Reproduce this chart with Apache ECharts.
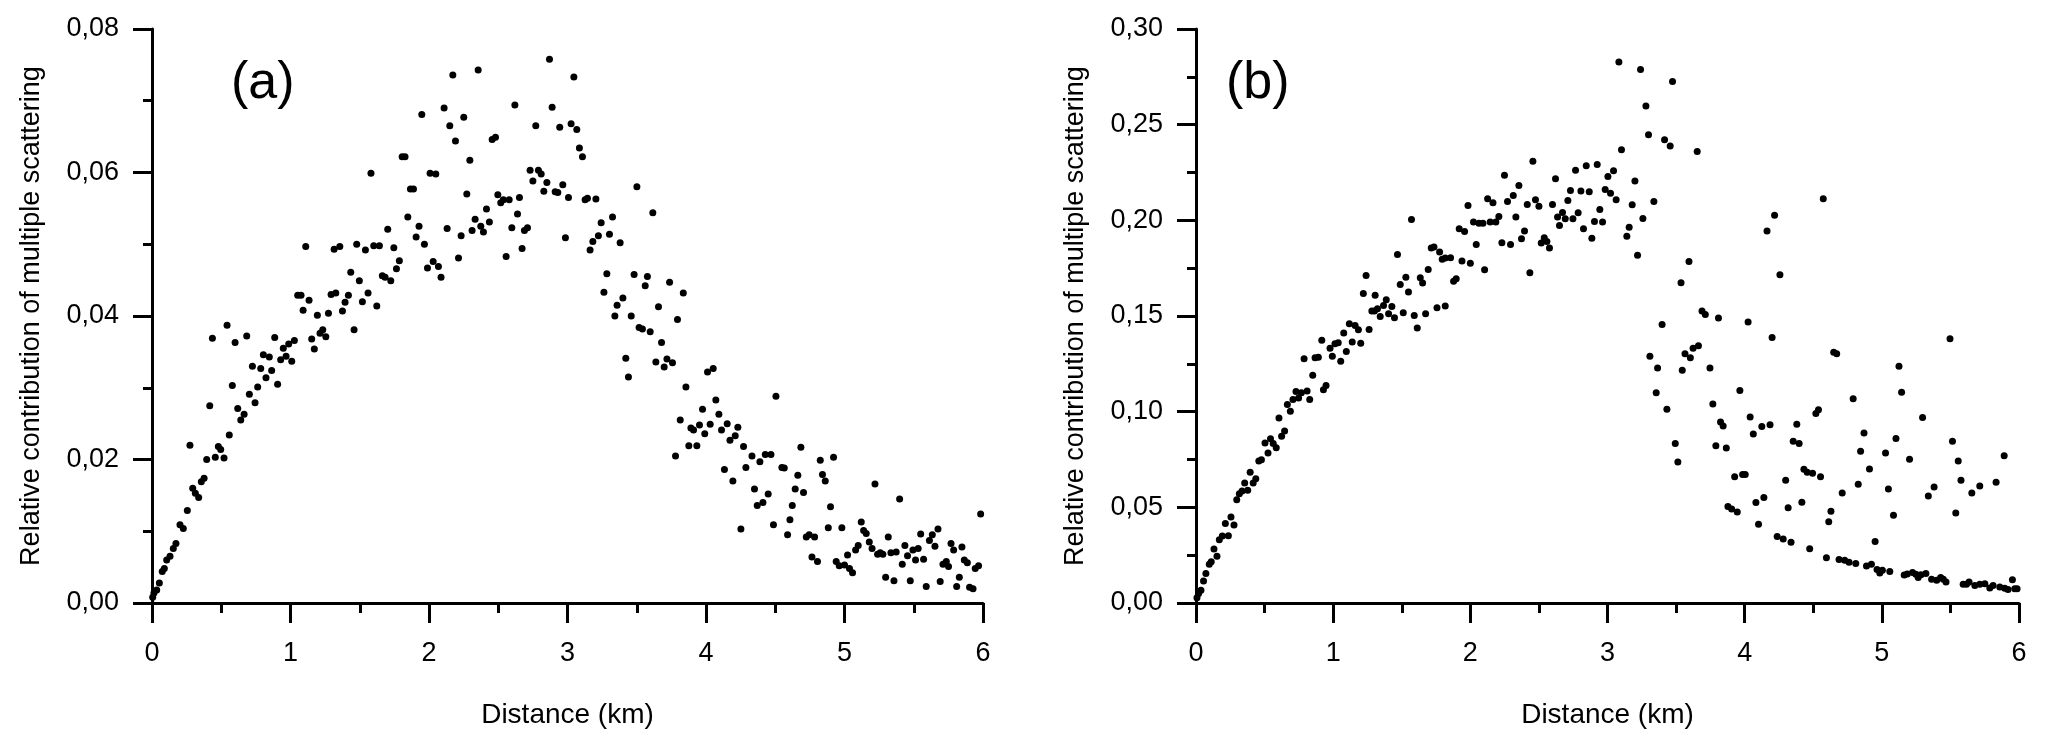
<!DOCTYPE html>
<html>
<head>
<meta charset="utf-8">
<script src="https://cdn.jsdelivr.net/npm/echarts@6/dist/echarts.min.js"></script>
<style>
html,body{margin:0;padding:0;background:#fff;}
#chart{width:2067px;height:747px;}
</style>
</head>
<body>
<div id="chart"></div>
<script>
// Panel (a): distance (km) and relative contribution of multiple scattering
const distA = [0.005,0.014,0.034,0.053,0.074,0.089,0.106,0.130,0.154,0.173,0.202,0.226,0.255,0.274,0.294,0.313,0.337,0.356,0.376,0.395,0.417,0.457,0.479,0.496,0.520,0.558,0.580,0.619,0.641,0.665,0.703,0.744,0.763,0.907,
0.436,0.542,0.600,0.684,0.725,0.785,0.804,0.847,0.864,0.823,0.886,0.929,0.948,0.968,0.987,1.009,1.028,1.052,1.076,1.110,1.091,1.134,1.153,1.172,1.194,1.213,1.233,1.255,1.274,1.293,1.315,1.327,1.356,1.375,1.394,1.418,1.435,1.459,1.478,1.497,1.519,1.541,1.560,1.581,1.601,1.623,1.642,1.663,1.683,1.702,1.724,1.746,1.765,1.786,1.806,1.827,1.847,1.866,1.888,1.907,1.928,1.948,1.967,1.989,2.008,2.049,2.030,2.068,2.087,2.109,2.131,2.150,2.172,2.191,2.213,2.232,2.251,2.273,2.295,2.311,2.333,2.355,2.374,2.393,2.415,2.436,2.456,2.480,2.497,2.518,2.537,2.557,2.579,2.598,2.620,2.639,2.653,
2.672,2.689,2.711,2.730,2.750,2.771,2.790,2.810,2.829,2.851,2.870,2.889,2.911,2.930,2.944,2.966,2.985,3.007,3.026,3.046,3.067,3.086,3.108,3.127,3.144,3.163,3.183,3.205,3.223,3.243,3.263,3.284,3.303,3.325,3.342,3.358,3.380,3.400,3.421,3.440,3.460,3.481,3.501,3.517,3.541,3.561,3.577,3.597,3.616,3.638,3.657,3.679,3.698,3.718,3.737,3.758,3.794,3.836,4.011,4.052,
3.855,4.505,4.071,3.975,4.093,3.814,4.030,3.953,4.153,3.891,3.910,4.112,4.230,3.991,4.211,4.173,3.876,3.934,4.271,3.780,4.332,4.428,4.469,4.389,4.685,4.825,4.921,4.133,4.288,4.548,4.565,4.663,4.841,4.861,4.194,4.350,4.644,4.704,4.449,4.411,4.370,4.623,4.899,5.220,5.398,5.983,4.606,4.487,4.883,4.981,4.252,5.121,5.138,5.157,4.589,4.724,4.745,4.784,5.316,5.179,5.550,5.613,5.634,5.675,5.099,5.080,5.199,5.436,5.653,5.769,5.848,5.494,5.532,5.788,5.239,5.258,5.277,5.335,5.373,5.455,5.022,5.513,5.571,5.417,4.765,4.805,4.940,4.962,5.000,5.036,5.058,5.711,5.735,5.751,5.865,5.887,5.944,5.968,5.297,5.357,5.475,5.590,5.691,5.829,5.810,5.903,5.928];
const valA = [0.0008,0.0014,0.0018,0.0028,0.0044,0.0048,0.0060,0.0065,0.0076,0.0083,0.0109,0.0104,0.0129,0.0220,0.0160,0.0153,0.0147,0.0169,0.0174,0.0200,0.0275,0.0203,0.0218,0.0214,0.0202,0.0234,0.0303,0.0271,0.0255,0.0263,0.0291,0.0279,0.0301,0.0305,
0.0369,0.0387,0.0363,0.0372,0.0330,0.0327,0.0346,0.0343,0.0324,0.0314,0.0370,0.0339,0.0355,0.0344,0.0361,0.0337,0.0366,0.0429,0.0429,0.0497,0.0408,0.0422,0.0368,0.0354,0.0401,0.0376,0.0381,0.0371,0.0404,0.0430,0.0493,0.0432,0.0497,0.0407,0.0419,0.0429,0.0461,0.0381,0.0500,0.0449,0.0420,0.0492,0.0432,0.0599,0.0498,0.0414,0.0498,0.0456,0.0454,0.0521,0.0449,0.0495,0.0466,0.0477,0.0622,0.0622,0.0538,0.0577,0.0577,0.0510,0.0525,0.0681,0.0500,0.0467,0.0599,0.0598,0.0476,0.0469,0.0454,0.0690,0.0522,0.0665,0.0736,0.0644,0.0481,0.0512,0.0677,0.0570,0.0617,0.0519,0.0535,0.0743,0.0525,0.0517,0.0549,0.0531,0.0646,0.0649,0.0569,0.0558,0.0562,0.0483,0.0562,0.0523,0.0694,0.0542,0.0565,
0.0494,0.0519,0.0523,0.0603,0.0588,0.0665,0.0603,0.0598,0.0574,0.0586,0.0758,0.0691,0.0573,0.0572,0.0663,0.0583,0.0509,0.0565,0.0668,0.0733,0.0660,0.0634,0.0622,0.0562,0.0564,0.0492,0.0504,0.0563,0.0512,0.0530,0.0433,0.0459,0.0514,0.0538,0.0400,0.0415,0.0502,0.0425,0.0341,0.0315,0.0400,0.0458,0.0580,0.0384,0.0382,0.0442,0.0455,0.0378,0.0544,0.0336,0.0413,0.0363,0.0329,0.0340,0.0447,0.0335,0.0395,0.0432,0.0322,0.0327,
0.0301,0.0288,0.0283,0.0270,0.0263,0.0255,0.0249,0.0248,0.0250,0.0244,0.0241,0.0241,0.0245,0.0236,0.0233,0.0227,0.0219,0.0219,0.0218,0.0205,0.0205,0.0207,0.0207,0.0197,0.0217,0.0199,0.0203,0.0186,0.0189,0.0189,0.0188,0.0178,0.0179,0.0170,0.0170,0.0159,0.0159,0.0154,0.0152,0.0140,0.0136,0.0136,0.0134,0.0166,0.0145,0.0124,0.0116,0.0109,0.0105,0.0105,0.0103,0.0113,0.0101,0.0097,0.0095,0.0092,0.0095,0.0092,0.0092,0.0085,0.0096,0.0087,0.0095,0.0103,0.0080,0.0074,0.0076,0.0080,0.0079,0.0083,0.0078,0.0074,0.0076,0.0074,0.0068,0.0070,0.0068,0.0070,0.0071,0.0066,0.0067,0.0060,0.0061,0.0054,0.0064,0.0058,0.0058,0.0052,0.0053,0.0048,0.0042,0.0054,0.0058,0.0051,0.0060,0.0056,0.0048,0.0052,0.0036,0.0031,0.0031,0.0023,0.0030,0.0036,0.0023,0.0022,0.0020];

// Panel (b)
const distB = [0.007,0.019,0.036,0.055,0.072,0.097,0.111,0.131,0.153,0.170,0.192,0.214,0.236,0.255,0.277,0.297,0.316,0.336,0.355,0.377,0.395,0.417,0.436,0.458,0.477,0.503,0.525,0.543,0.563,0.585,0.605,0.624,0.646,0.666,0.688,0.707,0.729,0.748,0.768,0.810,0.829,0.929,0.948,
0.788,0.851,0.868,0.892,0.917,0.977,1.013,1.037,0.994,1.055,1.077,1.096,1.118,1.160,1.184,1.139,1.201,1.220,1.240,1.262,1.282,1.301,1.306,1.323,1.343,1.367,1.387,1.404,1.428,1.447,1.469,1.489,1.511,1.530,1.549,1.571,1.591,1.613,1.635,1.652,1.674,1.693,1.715,1.735,1.757,1.776,1.795,1.817,1.856,1.817,1.878,1.897,1.919,1.958,1.939,1.983,2.000,2.023,2.043,2.063,2.092,2.104,2.126,2.165,2.145,2.186,2.208,2.230,2.249,2.271,2.293,2.313,2.332,2.354,2.373,2.395,2.415,2.434,2.456,2.475,2.500,2.517,2.539,2.558,2.577,2.599,2.621,2.636,2.650,
2.672,2.692,2.711,2.730,2.748,2.767,2.786,2.806,2.825,2.845,2.867,2.886,2.905,2.925,2.944,2.964,2.983,3.003,3.022,3.044,3.063,3.083,3.102,3.141,3.158,3.180,3.200,3.219,3.241,3.258,3.280,3.299,3.338,3.416,3.457,3.474,3.654,3.398,3.536,3.594,3.689,3.713,3.809,4.025,4.163,4.218,4.257,4.573,4.200,3.309,3.365,3.545,3.565,3.604,3.624,3.663,3.747,4.649,4.671,5.125,5.497,
3.355,3.433,3.965,4.791,5.144,3.768,3.824,3.843,4.040,4.125,4.185,4.380,4.519,4.538,5.297,4.063,4.870,5.103,5.515,3.494,3.513,3.790,3.866,4.354,4.397,4.845,5.027,5.202,5.557,5.892,4.910,4.432,4.456,4.495,4.553,3.927,3.985,4.004,4.299,5.577,4.828,5.833,5.714,5.381,5.048,4.711,5.656,5.339,4.140,4.082,4.417,4.317,3.878,3.905,3.946,4.629,5.539,5.085,4.613,4.101,4.951,4.237,4.281,4.338,4.474,4.596,4.688,4.729,4.761,4.810,4.888,4.924,4.965,4.985,5.004,5.058,5.163,5.185,5.224,5.248,5.265,5.285,5.321,5.363,5.400,5.429,5.448,5.468,5.593,5.617,5.636,5.678,5.714,5.751,5.787,5.811,5.860,5.896,5.920,5.952,5.969,5.986];
const valB = [0.0028,0.0049,0.0066,0.0115,0.0154,0.0202,0.0216,0.0282,0.0244,0.0331,0.0350,0.0415,0.0352,0.0449,0.0408,0.0540,0.0571,0.0585,0.0627,0.0589,0.0683,0.0627,0.0650,0.0742,0.0749,0.0836,0.0784,0.0859,0.0833,0.0812,0.0967,0.0871,0.0899,0.1037,0.1002,0.1063,0.1106,0.1071,0.1099,0.1108,0.1063,0.1115,0.1137,
0.1277,0.1190,0.1282,0.1285,0.1373,0.1332,0.1355,0.1360,0.1289,0.1264,0.1411,0.1315,0.1460,0.1451,0.1428,0.1364,0.1358,0.1617,0.1712,0.1430,0.1526,0.1526,0.1608,0.1538,0.1498,0.1555,0.1585,0.1512,0.1550,0.1491,0.1822,0.1664,0.1517,0.1703,0.1625,0.2005,0.1503,0.1437,0.1700,0.1672,0.1512,0.1743,0.1855,0.1860,0.1543,0.1834,0.1796,0.1803,0.1805,0.1552,0.1682,0.1695,0.1956,0.1942,0.1787,0.2078,0.1776,0.1991,0.1874,0.1985,0.1985,0.1742,0.2113,0.2092,0.1991,0.1991,0.2020,0.1883,0.2235,0.2099,0.1874,0.2130,0.2017,0.2182,0.1904,0.1944,0.2083,0.1726,0.2309,0.2107,0.2073,0.1881,0.1909,0.1890,0.1855,0.2083,0.2217,0.2017,0.1973,
0.2041,0.2008,0.2104,0.2156,0.2008,0.2262,0.2040,0.2153,0.1956,0.2285,0.2150,0.1907,0.1994,0.2292,0.2057,0.1991,0.2161,0.2229,0.2141,0.2259,0.2107,0.2827,0.2369,0.1917,0.1964,0.2081,0.2205,0.1818,0.2788,0.2010,0.2597,0.2447,0.2099,0.2421,0.2388,0.2726,0.2360,0.1456,0.1674,0.1785,0.1526,0.1508,0.1489,0.1468,0.1944,0.2027,0.1716,0.2113,0.1387,0.1290,0.1228,0.1216,0.1303,0.1282,0.1332,0.1345,0.1228,0.1311,0.1303,0.1237,0.1381,
0.1099,0.1012,0.1111,0.1068,0.1102,0.1040,0.0946,0.0925,0.0972,0.0922,0.0932,0.0934,0.0990,0.1010,0.0970,0.0883,0.0888,0.0860,0.0846,0.0834,0.0737,0.0822,0.0810,0.0846,0.0833,0.0793,0.0784,0.0751,0.0742,0.0770,0.0700,0.0699,0.0684,0.0678,0.0660,0.0660,0.0672,0.0672,0.0641,0.0641,0.0620,0.0631,0.0611,0.0606,0.0596,0.0575,0.0575,0.0559,0.0552,0.0525,0.0526,0.0498,0.0505,0.0491,0.0475,0.0479,0.0470,0.0458,0.0425,0.0411,0.0321,0.0348,0.0334,0.0317,0.0284,0.0237,0.0227,0.0223,0.0213,0.0206,0.0193,0.0202,0.0175,0.0157,0.0171,0.0164,0.0146,0.0152,0.0160,0.0150,0.0133,0.0148,0.0154,0.0124,0.0119,0.0133,0.0124,0.0110,0.0098,0.0098,0.0110,0.0091,0.0098,0.0101,0.0078,0.0092,0.0084,0.0077,0.0070,0.0122,0.0075,0.0075];

const xTicks = [0, 6, 1];          // min, max, interval (km)
const yTicksA = [0, 0.08, 0.02];
const yTicksB = [0, 0.30, 0.05];
const xName = 'Distance (km)';
const yName = 'Relative contribution of multiple scattering';
const panelLabels = ['(a)', '(b)'];

const FONT = '"Liberation Sans", Arial, Helvetica, sans-serif';
const zip = (xs, ys) => xs.map((x, i) => [x, ys[i]]);
const fmt = v => v.toFixed(2).replace('.', ',');

function xAxis(gi) {
  return {
    type: 'value', gridIndex: gi, min: xTicks[0], max: xTicks[1], interval: xTicks[2],
    name: xName, nameLocation: 'middle', nameGap: 98,
    nameTextStyle: { fontSize: 28, color: '#000', fontFamily: FONT },
    axisLine: { show: true, onZero: false, lineStyle: { color: '#000', width: 3 } },
    axisTick: { show: true, inside: false, length: 20, lineStyle: { color: '#000', width: 3 } },
    minorTick: { show: true, splitNumber: 2, length: 10, lineStyle: { color: '#000', width: 3 } },
    axisLabel: { fontSize: 27, color: '#000', fontFamily: FONT, margin: 37 },
    splitLine: { show: false }
  };
}
function yAxis(gi, t) {
  return {
    type: 'value', gridIndex: gi, min: t[0], max: t[1], interval: t[2],
    name: yName, nameLocation: 'middle', nameGap: 107,
    nameTextStyle: { fontSize: 27, color: '#000', fontFamily: FONT },
    axisLine: { show: true, onZero: false, lineStyle: { color: '#000', width: 3 } },
    axisTick: { show: true, inside: false, length: 19, lineStyle: { color: '#000', width: 3 } },
    minorTick: { show: true, splitNumber: 2, length: 9, lineStyle: { color: '#000', width: 3 } },
    axisLabel: { fontSize: 27, color: '#000', fontFamily: FONT, margin: 33, formatter: fmt },
    splitLine: { show: false }
  };
}

const chart = echarts.init(document.getElementById('chart'), null, { renderer: 'canvas' });
chart.setOption({
  backgroundColor: '#fff',
  animation: false,
  title: [
    { text: panelLabels[0], left: 231, top: 58, padding: 0, textStyle: { fontSize: 52, fontWeight: 'normal', color: '#000', fontFamily: FONT } },
    { text: panelLabels[1], left: 1226, top: 58, padding: 0, textStyle: { fontSize: 52, fontWeight: 'normal', color: '#000', fontFamily: FONT } }
  ],
  grid: [
    { left: 152, top: 29, width: 831, height: 574 },
    { left: 1196, top: 29, width: 823, height: 574 }
  ],
  xAxis: [xAxis(0), xAxis(1)],
  yAxis: [yAxis(0, yTicksA), yAxis(1, yTicksB)],
  series: [
    { type: 'scatter', xAxisIndex: 0, yAxisIndex: 0, data: zip(distA, valA), symbolSize: 7, itemStyle: { color: '#000', opacity: 1 } },
    { type: 'scatter', xAxisIndex: 1, yAxisIndex: 1, data: zip(distB, valB), symbolSize: 7, itemStyle: { color: '#000', opacity: 1 } }
  ]
});
</script>
</body>
</html>
